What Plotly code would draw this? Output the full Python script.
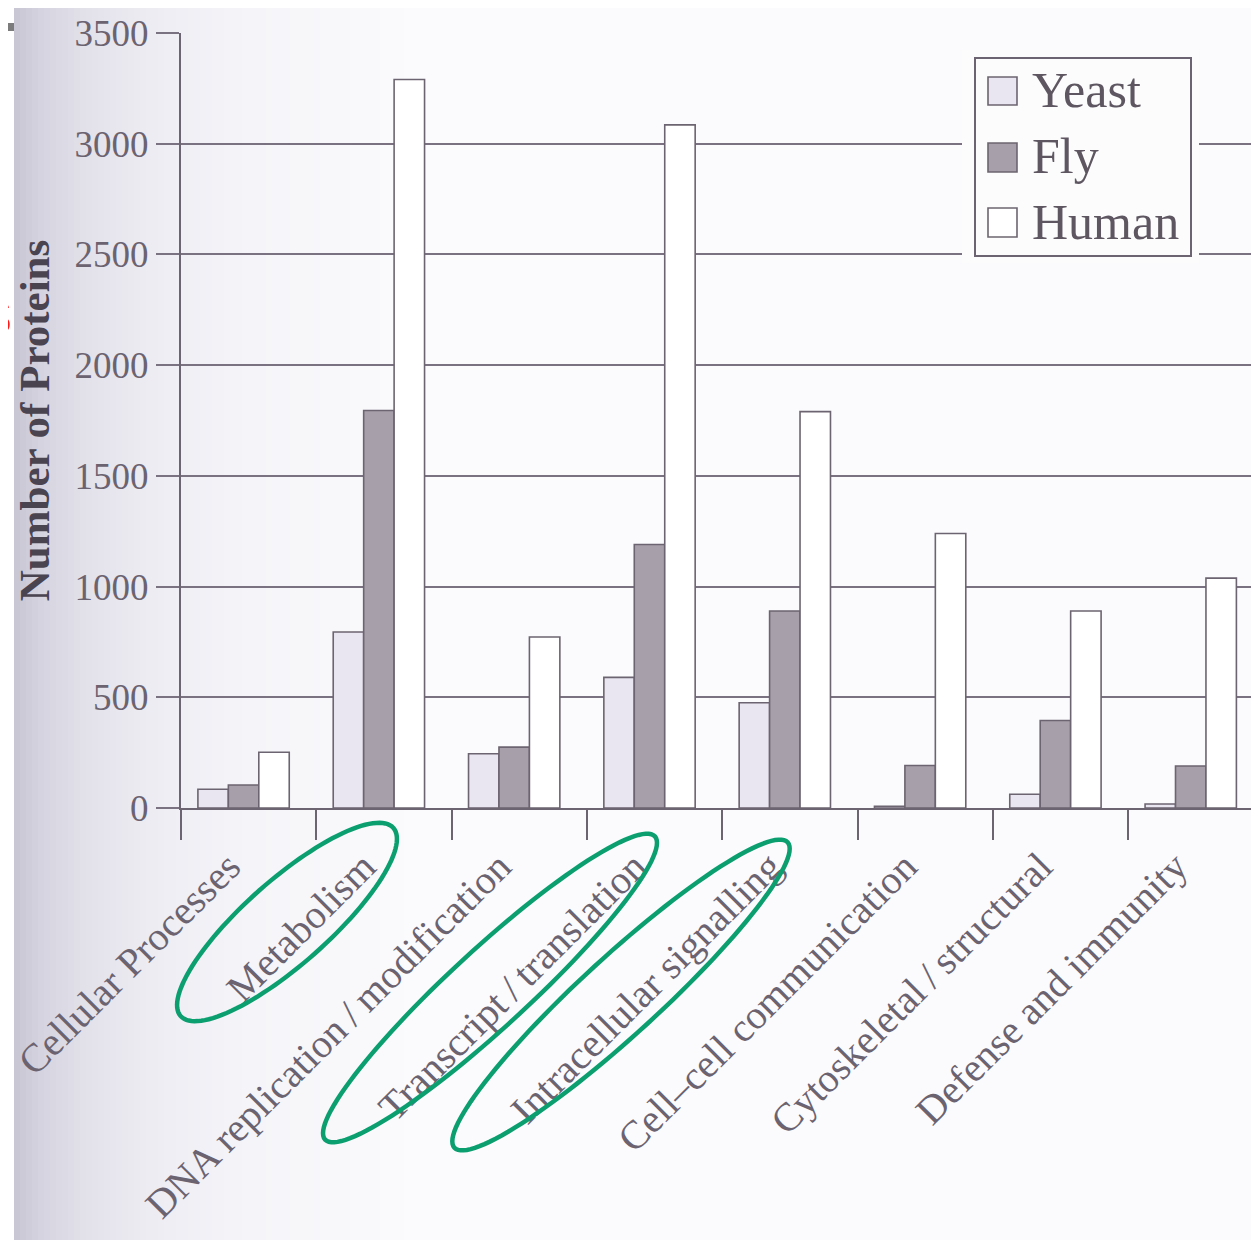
import numpy as np
import plotly.graph_objects as go

# ---------------- data ----------------
categories = [
    "Cellular Processes",
    "Metabolism",
    "DNA replication\u2009/\u2009modification",
    "Transcript\u2009/\u2009translation",
    "Intracellular signalling",
    "Cell\u2013cell communication",
    "Cytoskeletal\u2009/\u2009structural",
    "Defense and immunity",
]
yeast = [85, 795, 245, 590, 475, 8, 62, 18]
fly = [104, 1795, 275, 1190, 890, 192, 395, 190]
human = [252, 3290, 772, 3085, 1790, 1240, 890, 1038]
series_names = ["Yeast", "Fly", "Human"]
y_ticks = [0, 500, 1000, 1500, 2000, 2500, 3000, 3500]
y_title = "Number of Proteins"

# ---------------- layout geometry ----------------
# The page adds an 8 px body margin, so the figure is 8 px smaller than the window
# and all decoration coordinates below are given in window pixels.
OFF = 8
W, H = 1259 - OFF, 1240 - OFF
PLOT_L, PLOT_T, PLOT_B = 181, 33, 808          # window pixels
ML, MT = PLOT_L - OFF, PLOT_T - OFF
PW = W - ML
PH = PLOT_B - PLOT_T
MB = H - MT - PH

FONT = "Liberation Serif"
LINE = "#6c6470"
GRID = "#7a7280"
TXT = "#6b6370"
fills = {"Yeast": "#e9e6f1", "Fly": "#a7a0aa", "Human": "#ffffff"}
BAR_W = 0.225
offsets = {"Yeast": -0.375, "Fly": -0.15, "Human": 0.075}


def px(x):
    return (x - PLOT_L) / PW


def py(y):
    return (PLOT_B - y) / PH


fig = go.Figure()
for name, vals in zip(series_names, [yeast, fly, human]):
    fig.add_trace(go.Bar(
        x=categories, y=vals, name=name,
        width=BAR_W, offset=offsets[name],
        marker=dict(color=fills[name], line=dict(color=LINE, width=1.6)),
        showlegend=False,
    ))

shapes = []

# scanned-page background with a shadow on the left
ctrl_x = [14, 40, 80, 150, 250, 420]
ctrl_c = np.array([[199, 197, 210], [213, 211, 223], [225, 224, 233],
                   [237, 236, 243], [245, 245, 249], [251, 251, 253]])
shapes.append(dict(type="rect", xref="paper", yref="paper", layer="below",
                   x0=px(14), x1=px(1259), y0=py(1240), y1=py(8),
                   fillcolor="rgb(251,251,253)", line=dict(width=0)))
for x0 in np.arange(14, 420, 6):
    c = [int(round(np.interp(x0 + 3, ctrl_x, ctrl_c[:, k]))) for k in range(3)]
    shapes.append(dict(type="rect", xref="paper", yref="paper", layer="below",
                       x0=px(x0), x1=px(x0 + 6.5), y0=py(1240), y1=py(8),
                       fillcolor=f"rgb({c[0]},{c[1]},{c[2]})", line=dict(width=0)))

# slide decoration (top-left bar)
shapes.append(dict(type="rect", xref="paper", yref="paper", layer="above",
                   x0=px(0), x1=px(14), y0=py(31), y1=py(23),
                   fillcolor="#7c7c7c", line=dict(width=0)))

# legend box
shapes.append(dict(type="rect", xref="paper", yref="paper", layer="above",
                   x0=px(962), x1=px(1199), y0=py(263), y1=py(50),
                   fillcolor="#fcfcfd", line=dict(width=0)))
shapes.append(dict(type="rect", xref="paper", yref="paper", layer="above",
                   x0=px(975), x1=px(1191), y0=py(256), y1=py(58),
                   fillcolor="#fcfcfd", line=dict(color=LINE, width=2)))
sq_y = [(77, 105), (143, 172), (208, 237)]
annotations = []
for name, (y0, y1) in zip(series_names, sq_y):
    shapes.append(dict(type="rect", xref="paper", yref="paper", layer="above",
                       x0=px(988), x1=px(1017), y0=py(y1), y1=py(y0),
                       fillcolor=fills[name], line=dict(color=LINE, width=1.6)))
    annotations.append(dict(xref="paper", yref="paper", x=px(1030), y=py((y0 + y1) / 2 - 1),
                            xanchor="left", yanchor="middle", showarrow=False, text=name,
                            font=dict(family=FONT, size=50, color="#5e5761")))


# green hand-drawn ellipses
def ellipse_path(cx, cy, a, b, ang_deg, n=120):
    th = np.deg2rad(ang_deg)
    ux, uy = np.cos(th), -np.sin(th)
    vx, vy = np.sin(th), np.cos(th)
    t = np.linspace(0, 2 * np.pi, n, endpoint=False)
    xx = cx + a * np.cos(t) * ux + b * np.sin(t) * vx
    yy = cy + a * np.cos(t) * uy + b * np.sin(t) * vy
    pts = [f"{px(x):.5f},{py(y):.5f}" for x, y in zip(xx, yy)]
    return "M " + " L ".join(pts) + " Z"


for (cx, cy, a, b, ang) in [(287, 922, 142, 42, 41.5),
                            (490, 988, 224, 39, 42.6),
                            (621, 995, 226, 39, 42.5)]:
    shapes.append(dict(type="path", xref="paper", yref="paper", layer="above",
                       path=ellipse_path(cx, cy, a, b, ang),
                       line=dict(color="#0b9f70", width=4.5)))

# partial red slide-title letter at the far left edge (cut off, as in the source)
annotations.append(dict(xref="paper", yref="paper", x=px(14), y=py(312),
                        xanchor="right", yanchor="middle", showarrow=False, text="s",
                        font=dict(family="Liberation Sans", size=64, color="#ff1a1a")))

fig.update_layout(
    width=W, height=H,
    margin=dict(l=ML, r=0, t=MT, b=MB, pad=0),
    paper_bgcolor="#ffffff",
    plot_bgcolor="rgba(0,0,0,0)",
    barmode="overlay",
    showlegend=False,
    shapes=shapes,
    annotations=annotations,
    font=dict(family=FONT, color=TXT),
    xaxis=dict(
        type="category", range=[-0.5, 7.467],
        showgrid=False, showline=True, linecolor=LINE, linewidth=2,
        ticks="outside", tickson="boundaries", ticklen=30, tickwidth=2, tickcolor=LINE,
        tickangle=-45, tickfont=dict(family=FONT, size=40, color=TXT),
        ticklabelstandoff=17, ticklabelshift=-20,
        zeroline=False, fixedrange=True,
    ),
    yaxis=dict(
        range=[0, 3500], tickvals=y_ticks,
        showgrid=True, gridcolor=GRID, gridwidth=2,
        showline=True, linecolor=LINE, linewidth=2,
        ticks="outside", ticklen=23, tickwidth=2, tickcolor=GRID,
        tickfont=dict(family=FONT, size=37, color=TXT),
        zeroline=False,
        title=dict(text=y_title, standoff=12,
                   font=dict(family=FONT, size=43, color="#4a4350", weight="bold")),
    ),
)

fig.write_html("out.html")
